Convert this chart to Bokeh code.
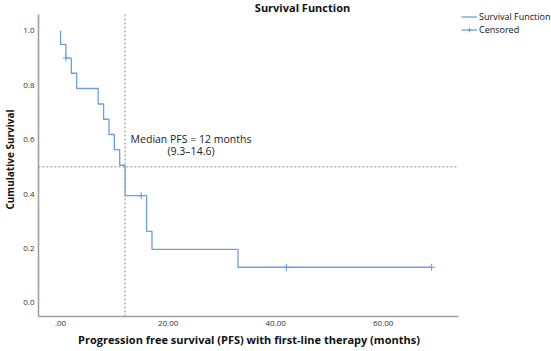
from bokeh.plotting import figure
from bokeh.models import Range1d, FixedTicker, Label, Legend, LegendItem
from bokeh.embed import file_html
from bokeh.resources import INLINE

# ---- data ----
event_times = [0, 1, 2, 3, 7, 8, 9, 10, 11, 12, 16, 17, 33]
survival = [0.95, 0.90, 0.844, 0.788, 0.731, 0.675, 0.619, 0.563, 0.506, 0.394, 0.263, 0.197, 0.131]
last_followup = 69
censor_times = [1, 15, 42, 69]
censor_surv = [0.90, 0.394, 0.131, 0.131]
median_pfs = 12
median_level = 0.5
median_ci = (9.3, 14.6)
x_ticks = [0, 20, 40, 60]
x_tick_labels = [".00", "20.00", "40.00", "60.00"]
y_ticks = [0.0, 0.2, 0.4, 0.6, 0.8, 1.0]
y_tick_labels = ["0.0", "0.2", "0.4", "0.6", "0.8", "1.0"]

# ---- layout (axis box in canvas pixels and its data extent) ----
W, H = 551, 351
AX_L, AX_R, AX_T, AX_B = 36, 456, 14, 316
X0, X1 = -4.1, 74.0
Y0, Y1 = -0.05, 1.06
FL, FR, FB = 34, 459, 318  # frame left / right / bottom in canvas px (frame reaches the top edge)

def dx(px):
    return X0 + (px - AX_L) * (X1 - X0) / (AX_R - AX_L)

def dy(py):
    return Y1 - (py - AX_T) * (Y1 - Y0) / (AX_B - AX_T)

FONT = "Open Sans"
BLUE = "#6b9fe0"
GRAY_AX = "#a0a0a0"
GRAY_REF = "#8a8a8a"

p = figure(frame_width=FR - FL, frame_height=FB, output_backend="svg", toolbar_location=None,
           x_range=Range1d(dx(FL), dx(FR)), y_range=Range1d(dy(FB), dy(0)),
           min_border_left=FL, min_border_right=W - FR, min_border_top=0, min_border_bottom=H - FB)
p.outline_line_color = None
p.grid.grid_line_color = None
p.background_fill_color = "white"
p.border_fill_color = "white"

for ax in (p.xaxis[0], p.yaxis[0]):
    ax.axis_line_color = None
    ax.major_tick_line_color = None
    ax.minor_tick_line_color = None
    ax.major_tick_out = 0
    ax.major_tick_in = 0
    ax.minor_tick_out = 0
    ax.minor_tick_in = 0
    ax.major_label_text_font = FONT
    ax.major_label_text_font_size = "8px"
    ax.major_label_text_color = "#333333"
    ax.major_label_standoff = 2
    ax.axis_label_text_font = FONT
    ax.axis_label_text_font_style = "bold"
    ax.axis_label_text_color = "#111111"
    ax.axis_label_standoff = 3

p.xaxis.axis_label = "Progression free survival (PFS) with first-line therapy (months)"
p.xaxis.axis_label_text_font_size = "11px"
p.yaxis.axis_label = "Cumulative Survival"
p.yaxis.axis_label_text_font_size = "10px"
p.yaxis.axis_label_standoff = 3

p.xaxis.ticker = FixedTicker(ticks=x_ticks)
p.xaxis.major_label_overrides = {t: s for t, s in zip(x_ticks, x_tick_labels)}
p.yaxis.ticker = FixedTicker(ticks=y_ticks)
p.yaxis.major_label_overrides = {t: s for t, s in zip(y_ticks, y_tick_labels)}

# axis lines (drawn inside the frame so they stop where the reference's do)
p.segment(x0=[X0, X0], y0=[Y0, Y0], x1=[X1, X0], y1=[Y0, Y1],
          line_color=GRAY_AX, line_width=1.6)

# median reference lines
p.segment(x0=[median_pfs, X0], y0=[Y0, median_level], x1=[median_pfs, X1], y1=[Y1, median_level],
          line_color=GRAY_REF, line_width=1, line_dash="2 2")

# step curve and censor marks
xs = [0] + event_times + [last_followup]
ys = [1.0] + survival + [survival[-1]]
step_r = p.step(xs, ys, mode="after", line_color=BLUE, line_width=1.3)
cens_r = p.scatter(censor_times, censor_surv, marker="cross", size=7,
                   line_color=BLUE, line_width=1.1)

# annotation
p.add_layout(Label(x=dx(188.5), y=dy(138), text=f"Median PFS = {median_pfs} months",
                   text_font=FONT, text_font_size="10.5px", text_color="#222222",
                   text_align="center", text_baseline="middle"))
p.add_layout(Label(x=dx(188.5), y=dy(150.5), text=f"({median_ci[0]}\u2013{median_ci[1]})",
                   text_font=FONT, text_font_size="10.5px", text_color="#222222",
                   text_align="center", text_baseline="middle"))

# title
p.add_layout(Label(x=dx(300), y=dy(7), text="Survival Function", text_font=FONT,
                   text_font_size="11px", text_font_style="bold", text_color="#111111",
                   text_align="center", text_baseline="middle"))

legend = Legend(items=[LegendItem(label="Survival Function", renderers=[step_r]),
                       LegendItem(label="Censored", renderers=[step_r, cens_r])],
                location=(0, FB - 36), orientation="vertical")
legend.padding = 0
legend.margin = 0
legend.spacing = 0
legend.glyph_width = 16
legend.glyph_height = 11
legend.label_height = 11
legend.label_standoff = 2
legend.label_text_font = FONT
legend.label_text_font_size = "9px"
legend.label_text_color = "#111111"
legend.border_line_color = None
legend.background_fill_alpha = 0
p.add_layout(legend, "right")

open("out.html", "w").write(file_html(p, INLINE))
